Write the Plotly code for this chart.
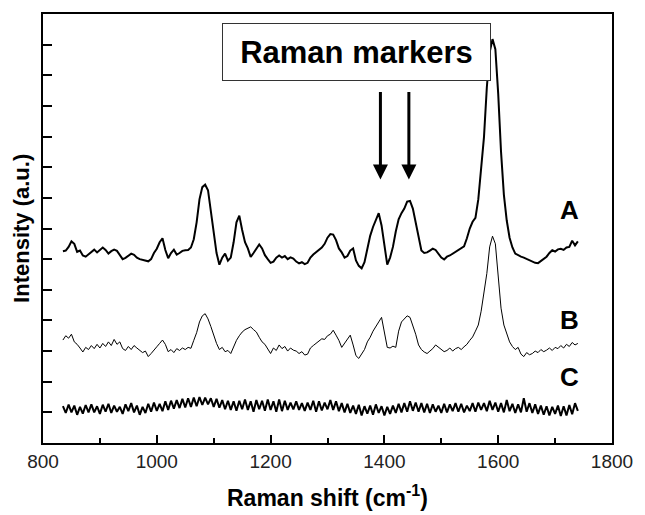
import plotly.graph_objects as go

# Raman shift grid (cm^-1), 5 cm^-1 step
raman_shift = list(range(835, 1741, 5))

spectrum_A = [
    6.26, 6.28, 6.40, 6.58, 6.50, 6.24, 6.28, 6.12, 6.08, 6.15,
    6.25, 6.31, 6.22, 6.30, 6.38, 6.30, 6.18, 6.26, 6.31, 6.27,
    6.12, 6.00, 6.04, 6.12, 6.18, 6.14, 6.05, 6.00, 5.97, 5.96,
    5.93, 6.00, 6.20, 6.34, 6.55, 6.68, 6.30, 6.03, 6.20, 6.31,
    6.15, 6.20, 6.27, 6.29, 6.30, 6.38, 6.65, 7.20, 7.95, 8.35,
    8.43, 8.25, 7.60, 6.95, 6.20, 5.82, 6.05, 6.18, 5.95, 6.05,
    6.55, 7.20, 7.42, 6.95, 6.55, 6.35, 6.07, 6.20, 6.35, 6.48,
    6.35, 6.13, 6.00, 5.88, 5.92, 6.05, 6.12, 6.05, 6.10, 6.00,
    6.06, 6.02, 5.92, 5.86, 5.90, 5.84, 5.88, 6.05, 6.15, 6.22,
    6.28, 6.38, 6.50, 6.70, 6.82, 6.80, 6.62, 6.35, 6.22, 6.05,
    6.10, 6.28, 6.35, 5.96, 5.78, 5.70, 5.90, 6.35, 6.76, 7.05,
    7.30, 7.50, 7.10, 6.40, 5.82, 6.05, 6.40, 6.90, 7.30, 7.50,
    7.65, 7.88, 7.90, 7.65, 7.20, 6.75, 6.28, 6.20, 6.22, 6.28,
    6.34, 6.30, 6.18, 6.05, 5.99, 6.08, 6.12, 6.18, 6.22, 6.28,
    6.35, 6.42, 6.68, 7.00, 7.22, 7.35, 7.95, 8.90, 9.98, 11.60,
    12.75, 13.18, 12.85, 11.40, 9.50, 8.10, 7.26, 6.70, 6.38, 6.18,
    6.12, 6.08, 6.05, 6.01, 5.95, 5.92, 5.88, 5.87, 5.95, 6.02,
    6.08, 6.20, 6.29, 6.25, 6.32, 6.34, 6.30, 6.38, 6.40, 6.60,
    6.45, 6.58,
]

spectrum_B = [
    3.36, 3.50, 3.42, 3.55, 3.30, 3.22, 3.10, 2.97, 3.12, 3.05,
    3.18, 3.08, 3.22, 3.10, 3.25, 3.15, 3.30, 3.18, 3.38, 3.22,
    3.30, 3.08, 3.02, 3.15, 3.05, 3.18, 3.10, 3.02, 2.95, 3.00,
    2.82, 2.92, 3.05, 3.14, 3.25, 3.36, 3.22, 2.98, 3.05, 2.95,
    3.08, 3.02, 3.10, 3.05, 3.12, 3.09, 3.35, 3.60, 3.95, 4.15,
    4.22, 4.05, 3.80, 3.50, 3.25, 3.05, 3.12, 2.98, 3.02, 2.92,
    3.15, 3.35, 3.50, 3.62, 3.70, 3.75, 3.79, 3.70, 3.62, 3.45,
    3.30, 3.22, 3.05, 2.92, 3.10, 3.02, 3.20, 3.08, 3.15, 3.00,
    3.10, 3.03, 3.00, 2.92, 2.98, 2.87, 2.90, 3.10, 3.18, 3.25,
    3.30, 3.40, 3.38, 3.50, 3.55, 3.68, 3.52, 3.35, 3.12, 3.25,
    3.40, 3.52, 3.20, 2.85, 2.76, 2.90, 3.05, 3.30, 3.45, 3.65,
    3.82, 3.95, 4.10, 3.55, 3.12, 3.10, 3.16, 3.12, 3.65, 3.95,
    4.05, 4.15, 4.10, 3.85, 3.55, 3.20, 3.05, 2.97, 2.92, 3.00,
    3.08, 3.20, 3.12, 3.05, 2.98, 3.02, 3.10, 3.00, 3.08, 3.12,
    3.05, 3.14, 3.22, 3.35, 3.46, 3.65, 3.85, 4.30, 4.85, 5.53,
    6.40, 6.75, 6.50, 5.50, 4.40, 3.85, 3.55, 3.30, 3.15, 3.05,
    3.12, 2.90, 2.82, 2.95, 2.88, 2.92, 3.00, 2.95, 3.05, 2.98,
    3.03, 3.10, 3.02, 3.12, 3.08, 3.18, 3.10, 3.22, 3.15, 3.28,
    3.20, 3.25,
]

spectrum_C = [
    1.20, 0.98, 1.25, 1.00, 1.22, 0.92, 1.18, 0.96, 1.24, 1.00,
    1.26, 1.00, 1.20, 0.95, 1.25, 1.02, 1.28, 0.98, 1.22, 1.02,
    1.18, 0.95, 1.26, 1.04, 1.30, 1.00, 1.22, 0.92, 1.18, 0.98,
    1.28, 1.02, 1.32, 1.05, 1.28, 1.04, 1.36, 1.08, 1.38, 1.12,
    1.40, 1.14, 1.44, 1.16, 1.46, 1.18, 1.48, 1.20, 1.50, 1.24,
    1.48, 1.26, 1.46, 1.18, 1.44, 1.15, 1.40, 1.10, 1.38, 1.08,
    1.36, 1.05, 1.38, 1.10, 1.42, 1.08, 1.36, 1.02, 1.40, 1.10,
    1.38, 1.05, 1.42, 1.08, 1.36, 1.02, 1.42, 1.04, 1.38, 1.08,
    1.32, 1.10, 1.36, 1.08, 1.30, 1.05, 1.32, 1.08, 1.38, 1.02,
    1.36, 1.06, 1.32, 1.10, 1.40, 1.08, 1.36, 1.04, 1.30, 1.00,
    1.28, 0.98, 1.22, 0.95, 1.25, 0.90, 1.20, 0.96, 1.22, 0.92,
    1.26, 0.98, 1.20, 0.90, 1.18, 0.95, 1.22, 0.98, 1.28, 1.00,
    1.30, 1.02, 1.36, 1.05, 1.32, 1.02, 1.30, 1.00, 1.28, 0.98,
    1.26, 1.02, 1.22, 0.98, 1.28, 1.00, 1.26, 1.04, 1.30, 1.02,
    1.28, 1.00, 1.22, 1.04, 1.30, 1.02, 1.32, 1.08, 1.30, 1.04,
    1.38, 1.08, 1.32, 1.02, 1.30, 1.00, 1.40, 1.04, 1.28, 0.98,
    1.26, 1.00, 1.46, 1.02, 1.30, 0.98, 1.26, 0.95, 1.22, 0.92,
    1.20, 0.90, 1.18, 0.95, 1.22, 0.88, 1.20, 0.90, 1.24, 0.94,
    1.30, 1.05,
]

curve_labels = ["A", "B", "C"]
label_pos_y = [7.62, 4.0, 2.15]
marker_shifts = [1393, 1443]
x_tick_vals = [800, 1000, 1200, 1400, 1600, 1800]
x_tick_text = ["800", "1000", "1200", "1400", "1600", "1800"]

FONT = "Liberation Sans, Arial, Helvetica, sans-serif"

fig = go.Figure()
for ys, w in [(spectrum_A, 2.0), (spectrum_B, 1.0), (spectrum_C, 2.0)]:
    fig.add_trace(go.Scatter(x=raman_shift, y=ys, mode="lines",
                             line=dict(color="black", width=w), showlegend=False,
                             hoverinfo="skip"))

annotations = []
for lab, yy in zip(curve_labels, label_pos_y):
    annotations.append(dict(x=1725, y=yy, xref="x", yref="y", text=lab, showarrow=False,
                            font=dict(family=FONT, size=26, color="black", weight="bold")))

annotations.append(dict(x=1351, y=12.75, xref="x", yref="y", text="Raman markers",
                        showarrow=False, bordercolor="#333", borderwidth=1, borderpad=2,
                        bgcolor="white", width=263, height=52,
                        font=dict(family=FONT, size=31, color="black", weight="bold")))

for xs in marker_shifts:
    annotations.append(dict(x=xs, y=8.6, xref="x", yref="y", ax=xs, ay=11.5,
                            axref="x", ayref="y", text="", showarrow=True,
                            arrowhead=2, arrowsize=1.0, arrowwidth=3, arrowcolor="black"))

annotations.append(dict(x=0.5, y=-0.124, xref="paper", yref="paper",
                        text="Raman shift (cm<sup>-1</sup>)", showarrow=False,
                        yanchor="middle",
                        font=dict(family=FONT, size=23, color="black", weight="bold")))
annotations.append(dict(x=-0.038, y=0.5, xref="paper", yref="paper",
                        text="Intensity (a.u.)", showarrow=False, textangle=-90,
                        xanchor="center",
                        font=dict(family=FONT, size=22, color="black", weight="bold")))

fig.update_layout(
    width=645, height=515,
    margin=dict(l=43, r=25, t=13, b=72),
    paper_bgcolor="white", plot_bgcolor="white",
    annotations=annotations,
    font=dict(family=FONT, color="black"),
)
fig.update_xaxes(range=[800, 1800], tickvals=x_tick_vals, ticktext=x_tick_text,
                 ticks="inside", ticklen=8, tickwidth=2, tickcolor="black",
                 showline=True, linewidth=2, linecolor="black", mirror=True,
                 showgrid=False, zeroline=False,
                 minor=dict(dtick=100, ticks="inside", ticklen=5, tickwidth=2,
                            tickcolor="black", showgrid=False),
                 tickfont=dict(family=FONT, size=19, color="#222"))
fig.update_yaxes(range=[0, 14], dtick=1, tick0=0, ticks="inside", ticklen=9, tickwidth=2,
                 tickcolor="black", showticklabels=False,
                 showline=True, linewidth=2, linecolor="black", mirror=True,
                 showgrid=False, zeroline=False)

fig.write_html("out.html")
